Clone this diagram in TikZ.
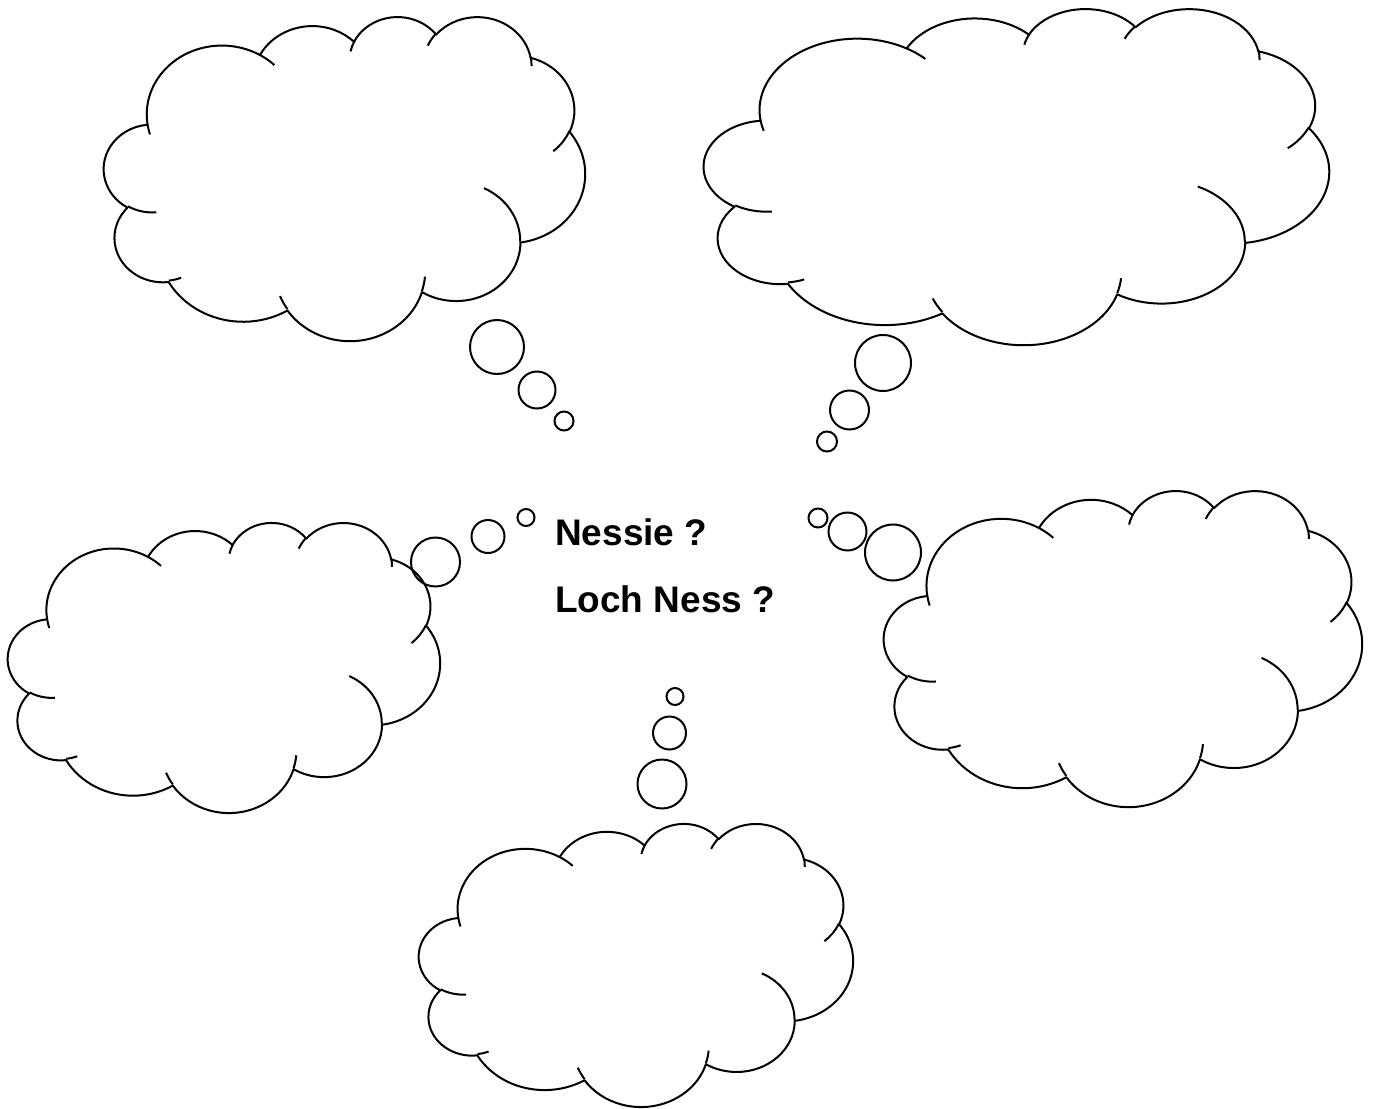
\documentclass[tikz,border=0pt]{standalone}
\usepackage{fontspec}
\setmainfont{Liberation Sans}
\tikzset{
  cloudline/.style={line width=2pt, black, line join=round},
  bubble/.style={line width=2pt, black},
  lbl/.style={inner sep=0pt, anchor=base west, font=\bfseries\fontsize{37}{44}\selectfont}
}
% arc in PowerPoint convention (visual angles, degrees)
\newcommand\pparc[4]{\pgfextra{%
  \pgfmathsetmacro\ppA{atan2((#1)*sin(#3),(#2)*cos(#3))}%
  \pgfmathsetmacro\ppB{atan2((#1)*sin((#3)+(#4)),(#2)*cos((#3)+(#4)))}%
  \pgfmathsetmacro\ppD{mod((\ppB)-(\ppA)+720,360)}%
  \global\let\ppAg\ppA\global\let\ppDg\ppD}
  arc[start angle=\ppAg, delta angle=\ppDg, x radius=#1, y radius=#2]}
\newcommand\ppcloud[5]{%
\begin{scope}[shift={(#2,#3)}, x=1pt, y=1pt, xscale=#4/43.2, yscale=-#5/43.2]
  \draw[cloudline] (3.900,14.370)
    \pparc{6.753}{9.190}{-190.48748}{123.78053}
    \pparc{5.333}{7.267}{-144.10238}{89.94523}
    \pparc{4.365}{5.945}{-145.80792}{99.72302}
    \pparc{4.857}{6.595}{-130.98607}{117.24173}
    \pparc{5.333}{7.273}{-78.70888}{109.02692}
    \pparc{6.775}{9.220}{-46.26725}{130.26900}
    \pparc{5.785}{7.867}{0.62502}{114.03333}
    \pparc{6.752}{9.215}{22.45160}{115.17255}
    \pparc{7.720}{10.543}{66.24263}{75.71102}
    \pparc{4.360}{5.918}{-274.94208}{146.73557}
    \pparc{4.345}{5.945}{-246.82850}{152.51885}
    -- cycle;
  \draw[cloudline]
    (4.693,26.177) \pparc{4.345}{5.945}{86.742}{26.4295}
    (6.928,34.899) \pparc{4.360}{5.918}{73.61047}{11.44747}
    (16.478,39.090) \pparc{6.752}{9.215}{137.62415}{14.0811}
    (28.827,34.751) \pparc{6.752}{9.215}{6.45327}{15.99835}
    (34.129,22.954) \pparc{5.785}{7.867}{-70.29235}{70.91737}
    (41.798,15.354) \pparc{5.333}{7.273}{30.31803}{27.7515}
    (38.324,5.426) \pparc{4.857}{6.595}{-13.74433}{14.8589}
    (29.078,3.952) \pparc{4.857}{6.595}{-149.18145}{18.19537}
    (22.141,4.720) \pparc{4.365}{5.945}{-163.49427}{17.68635}
    (14.000,5.192) \pparc{6.753}{9.190}{-66.70695}{12.31935}
    (4.127,15.789) \pparc{6.753}{9.190}{157.65435}{11.85817};
  \coordinate (#1) at (21.6,21.6);
\end{scope}}
\begin{document}
\begin{tikzpicture}[x=1pt, y=-1pt]
  \useasboundingbox (0,0) rectangle (1375,1108);
  \fill[white] (0,0) rectangle (1375,1108);

  \ppcloud{cloudTL}{104}{16}{481}{324}
  \ppcloud{cloudTR}{704}{8}{625}{336}
  \ppcloud{cloudML}{8}{522}{432}{290}
  \ppcloud{cloudMR}{884}{490}{478}{316}
  \ppcloud{cloudB}{419}{823}{434}{283}

  % bubbles
  \coordinate (a1) at (497,347);   \draw[bubble] (a1) circle[radius=27pt];
  \coordinate (a2) at (537,390);   \draw[bubble] (a2) circle[radius=18.5pt];
  \coordinate (a3) at (564,421);   \draw[bubble] (a3) circle[radius=9.5pt];
  \coordinate (b1) at (883,363);   \draw[bubble] (b1) circle[radius=28pt];
  \coordinate (b2) at (849.5,410); \draw[bubble] (b2) circle[radius=19.5pt];
  \coordinate (b3) at (827,441.5); \draw[bubble] (b3) circle[radius=10pt];
  \coordinate (e1) at (675,696.5); \draw[bubble] (e1) circle[radius=8.5pt];
  \coordinate (e2) at (669.5,733); \draw[bubble] (e2) circle[radius=16.5pt];
  \coordinate (e3) at (662,784);   \draw[bubble] (e3) circle[radius=24.5pt];
  \coordinate (l1) at (526,517.5); \draw[bubble] (l1) circle[radius=8.5pt];
  \coordinate (l2) at (488,536.5); \draw[bubble] (l2) circle[radius=16.5pt];
  \coordinate (l3) at (435.5,562); \draw[bubble] (l3) circle[radius=24.5pt];
  \coordinate (r1) at (818,518);   \draw[bubble] (r1) circle[radius=9.5pt];
  \coordinate (r2) at (847.5,531.5); \draw[bubble] (r2) circle[radius=19pt];
  \coordinate (r3) at (893,552.5); \draw[bubble] (r3) circle[radius=28pt];

  \node[lbl] (nessie) at (555,545) {Nessie ?};
  \node[lbl] (lochness) at (555,612) {Loch Ness ?};
\end{tikzpicture}
\end{document}
